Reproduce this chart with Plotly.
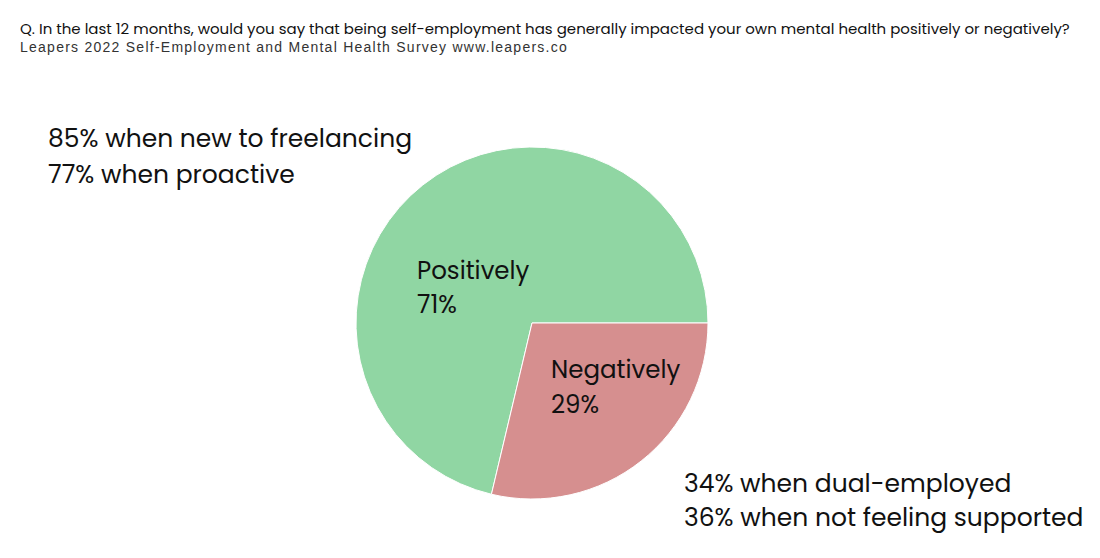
import plotly.graph_objects as go

categories = ["Positively", "Negatively"]
values = [71.3, 28.7]          # slice sizes
pct_labels = ["71%", "29%"]    # labels as printed
colors = ["#90D6A3", "#D68F8F"]
notes_top = ["85% when new to freelancing", "77% when proactive"]
notes_bottom = ["34% when dual-employed", "36% when not feeling supported"]
title = "Q. In the last 12 months, would you say that being self-employment has generally impacted your own mental health positively or negatively?"
subtitle = "Leapers 2022 Self-Employment and Mental Health Survey www.leapers.co"

W, H = 1100, 558
OFF = 8  # page body margin
def px(x): return (x - OFF) / W
def py(y): return 1 - (y - OFF) / H

# negative slice starts at 3 o'clock, going clockwise; positive fills the rest
start_angle = 90 + values[1] / sum(values) * 360

fig = go.Figure(go.Pie(
    labels=categories, values=values, sort=False, direction="clockwise",
    rotation=start_angle, textinfo="none", hoverinfo="label+percent",
    marker=dict(colors=colors, line=dict(color="white", width=1)),
    domain=dict(x=[px(356), px(708)], y=[py(499), py(147)]),
    showlegend=False,
))

main_font = "Poppins, Inter, Lato, sans-serif"
ann = []
ann.append(dict(x=px(18), y=py(28), text=title,
                font=dict(size=15, family=main_font, color="#111"), xanchor="left", yanchor="middle"))
ann.append(dict(x=px(18), y=py(47), text=subtitle,
                font=dict(size=14, family="Liberation Sans, Arial", color="#333"), xanchor="left", yanchor="middle"))
for i, t in enumerate(notes_top):
    ann.append(dict(x=px(46), y=py(139 + 35 * i), text=t, font=dict(size=25, family=main_font, color="#111"),
                    xanchor="left", yanchor="middle"))
for i, t in enumerate(notes_bottom):
    ann.append(dict(x=px(682), y=py(483 + 34 * i), text=t, font=dict(size=25, family=main_font, color="#111"),
                    xanchor="left", yanchor="middle"))
lab = dict(size=24.5, family=main_font, color="#111")
ann.append(dict(x=px(415), y=py(270), text=categories[0], font=lab, xanchor="left", yanchor="middle"))
ann.append(dict(x=px(415), y=py(304), text=pct_labels[0], font=lab, xanchor="left", yanchor="middle"))
ann.append(dict(x=px(549), y=py(369), text=categories[1], font=lab, xanchor="left", yanchor="middle"))
ann.append(dict(x=px(549), y=py(404), text=pct_labels[1], font=lab, xanchor="left", yanchor="middle"))
for a in ann:
    a.update(xref="paper", yref="paper", showarrow=False)

fig.update_layout(width=W, height=H, margin=dict(l=0, r=0, t=0, b=0),
                  paper_bgcolor="white", plot_bgcolor="white", annotations=ann)

post = """
document.querySelectorAll('text.annotation-text').forEach(function(t){
  if (t.textContent.indexOf('Leapers') === 0) {
    var b0 = t.getBBox();
    t.style.letterSpacing = '1.25px';
    var b1 = t.getBBox();
    t.setAttribute('transform', 'translate(' + (b0.x - b1.x) + ',0)');
  }
});
"""
fig.write_html("out.html", post_script=post)
